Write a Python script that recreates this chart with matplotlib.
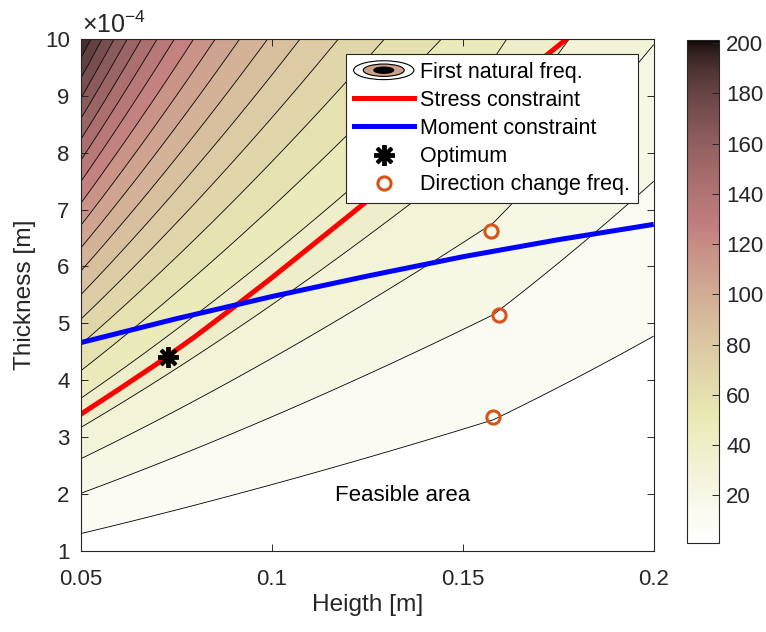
import numpy as np
import matplotlib
matplotlib.use("Agg")
import matplotlib.pyplot as plt
from matplotlib.colors import ListedColormap, Normalize
from matplotlib.cm import ScalarMappable
from matplotlib.legend_handler import HandlerBase
from matplotlib.patches import Ellipse
from matplotlib.lines import Line2D

plt.rcParams['font.family'] = ['Liberation Sans', 'DejaVu Sans']
plt.rcParams['mathtext.fontset'] = 'custom'
plt.rcParams['mathtext.rm'] = 'Liberation Sans'
plt.rcParams['mathtext.it'] = 'Liberation Sans:italic'
plt.rcParams['mathtext.bf'] = 'Liberation Sans:bold'

# ---------------- data ----------------
height_limits = [0.05, 0.2]          # m
thickness_limits = [1e-4, 1e-3]      # m
n_contour_levels = 20

# first natural frequency field f = C * F(t) * G(h); parameters
freq_coeff = 7.29
thick_unit = 1e-4
thick_mass_ratio = 32.1      # in units of 1e-4 m
height_offset = 0.06
height_switch = 0.158        # mode direction change
height_exp_high = 2.26

stress_height = [0.05, 0.06, 0.07, 0.08, 0.09, 0.10, 0.12, 0.15, 0.1772]
stress_thick = [3.40e-4, 3.84e-4, 4.29e-4, 4.77e-4, 5.28e-4, 5.80e-4, 6.88e-4, 8.52e-4, 10.0e-4]
moment_height = [0.05, 0.075, 0.1, 0.125, 0.15, 0.175, 0.2]
moment_thick = [4.66e-4, 5.08e-4, 5.47e-4, 5.83e-4, 6.17e-4, 6.47e-4, 6.74e-4]
optimum_height = [0.0729]
optimum_thick = [4.41e-4]
dirchange_height = [0.1574, 0.1594, 0.1579]
dirchange_thick = [6.62e-4, 5.146e-4, 3.35e-4]

xticks = [0.05, 0.1, 0.15, 0.2]
xtick_labels = ['0.05', '0.1', '0.15', '0.2']
yticks_e4 = [1, 2, 3, 4, 5, 6, 7, 8, 9, 10]
cbar_ticks = [20, 40, 60, 80, 100, 120, 140, 160, 180, 200]
legend_labels = ['First natural freq.', 'Stress constraint', 'Moment constraint',
                 'Optimum', 'Direction change freq.']

# ---------------- field ----------------
H, T = np.meshgrid(np.linspace(height_limits[0], height_limits[1], 701),
                   np.linspace(thickness_limits[0], thickness_limits[1], 701))
tt = T / thick_unit
Ft = tt ** 1.5 / np.sqrt(1 + tt / thick_mass_ratio)
G1 = ((height_limits[0] + height_offset) / (H + height_offset)) ** 2
Gs = ((height_limits[0] + height_offset) / (height_switch + height_offset)) ** 2
G2 = Gs * (height_switch / H) ** height_exp_high
Z = freq_coeff * Ft * np.minimum(G1, G2)


def matlab_pink(m=256):
    n = int(np.fix(3 / 8 * m))
    r = np.concatenate([np.arange(1, n + 1) / n, np.ones(m - n)])
    g = np.concatenate([np.zeros(n), np.arange(1, n + 1) / n, np.ones(m - 2 * n)])
    b = np.concatenate([np.zeros(2 * n), np.arange(1, m - 2 * n + 1) / (m - 2 * n)])
    hot = np.stack([r, g, b], 1)
    gray = np.linspace(0, 1, m)[:, None]
    return np.sqrt((2 * gray + hot) / 3)


cmap = ListedColormap(matlab_pink(256)[::-1])
zmin, zmax = Z.min(), Z.max()
norm = Normalize(zmin, zmax)
levels = np.linspace(zmin, zmax, n_contour_levels + 2)[1:-1]
bounds = np.concatenate([[zmin - 1], levels, [zmax + 1]])
fill_colors = [cmap(norm(v)) for v in np.concatenate([[zmin], levels])]

AX_C = '#262626'
fig = plt.figure(figsize=(7.66, 6.32), dpi=100)
ax = fig.add_axes([0.1054, 0.1286, 0.7480, 0.8097])

ax.contourf(H, T, Z, levels=bounds, colors=fill_colors, antialiased=True)
ax.contour(H, T, Z, levels=levels, colors='k', linewidths=0.6)

ax.plot(stress_height, stress_thick, color='red', lw=3.6, solid_capstyle='butt',
        solid_joinstyle='round')
ax.plot(moment_height, moment_thick, color='blue', lw=3.6, solid_capstyle='butt',
        solid_joinstyle='round')
ax.plot(optimum_height, optimum_thick, ls='none', marker=(8, 2, 0), color='k', ms=15, mew=2.8)
orange = (0.85, 0.325, 0.098)
ax.plot(dirchange_height, dirchange_thick, ls='none', marker='o', mfc='none', mec=orange,
        ms=9.5, mew=2.2)

ax.text(0.1342, 1.98e-4, 'Feasible area', fontsize=16, ha='center', va='center', color='k')

ax.set_xlim(height_limits)
ax.set_ylim(thickness_limits)
ax.set_xticks(xticks)
ax.set_xticklabels(xtick_labels)
ax.set_yticks([v * 1e-4 for v in yticks_e4])
ax.set_yticklabels([str(v) for v in yticks_e4])
ax.tick_params(direction='in', top=True, right=True, length=5, width=0.7,
               labelsize=16, colors=AX_C)
ax.tick_params(axis='x', pad=13)
ax.tick_params(axis='y', pad=8)
for s in ax.spines.values():
    s.set_color(AX_C)
    s.set_linewidth(0.8)
ax.set_xlabel('Heigth [m]', fontsize=17.6, color=AX_C, labelpad=3)
ax.set_ylabel('Thickness [m]', fontsize=17.6, color=AX_C, labelpad=6)
ax.text(0.002, 1.012, r'$\times10^{-4}$', transform=ax.transAxes, fontsize=18,
        ha='left', va='baseline', color=AX_C)


class ContourProxy:
    pass


class ContourHandler(HandlerBase):
    def create_artists(self, legend, orig_handle, xdescent, ydescent, width, height,
                       fontsize, trans):
        cx = width / 2 - xdescent
        cy = height / 2 - ydescent
        e1 = Ellipse((cx, cy), width, height * 1.25, fc='white', ec='k', lw=0.8, transform=trans)
        e2 = Ellipse((cx, cy), width * 0.68, height * 0.82, fc=(0.80, 0.63, 0.53), ec='k',
                     lw=0.8, transform=trans)
        e3 = Ellipse((cx, cy), width * 0.33, height * 0.42, fc='k', ec='k', lw=0.8,
                     transform=trans)
        return [e1, e2, e3]


handles = [ContourProxy(),
           Line2D([], [], color='red', lw=3.6),
           Line2D([], [], color='blue', lw=3.6),
           Line2D([], [], ls='none', marker=(8, 2, 0), color='k', ms=15, mew=2.8),
           Line2D([], [], ls='none', marker='o', mfc='none', mec=orange, ms=9.5, mew=2.2)]
leg = ax.legend(handles, legend_labels, handler_map={ContourProxy: ContourHandler()},
                loc='upper right', bbox_to_anchor=(0.972, 0.9707), bbox_transform=ax.transAxes,
                borderaxespad=0, fontsize=15.5, handlelength=2.8, handletextpad=0.28,
                borderpad=0.36, labelspacing=0.33, frameon=True, fancybox=False,
                edgecolor=AX_C, framealpha=1)
leg.get_frame().set_linewidth(0.8)

cax = fig.add_axes([0.8965, 0.1413, 0.0426, 0.7954])
cb = fig.colorbar(ScalarMappable(norm=norm, cmap=cmap), cax=cax, ticks=cbar_ticks)
cax.tick_params(direction='in', length=5, width=0.7, labelsize=16, colors=AX_C, pad=5)
cb.outline.set_edgecolor(AX_C)
cb.outline.set_linewidth(0.8)

fig.savefig('out.png', dpi=100)
